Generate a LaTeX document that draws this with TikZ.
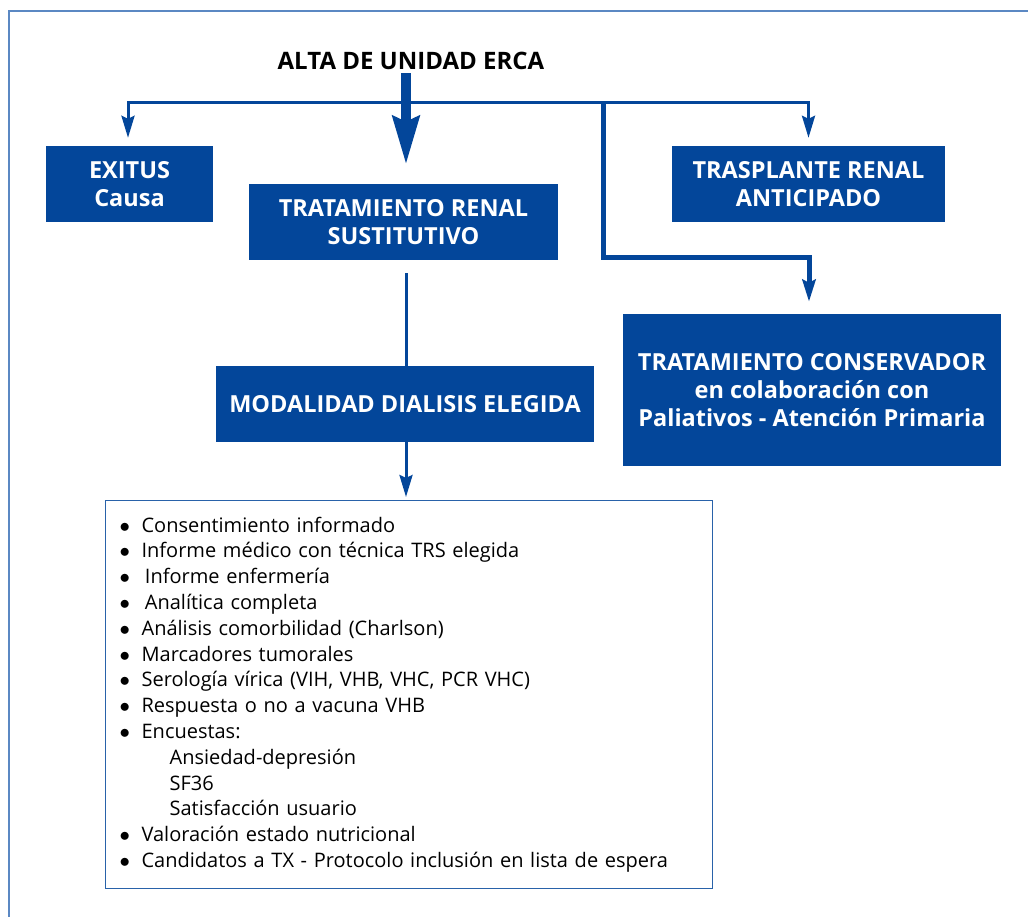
\documentclass[tikz,border=0pt]{standalone}
\usepackage{fontspec}
\setmainfont{Open Sans}
\usetikzlibrary{arrows.meta,positioning}
\definecolor{ercablue}{HTML}{03469A}
\definecolor{frameblue}{HTML}{5B88C3}
\newcommand{\itm}[1]{\makebox[22pt][l]{$\bullet$}#1\\}
\newcommand{\subitm}[1]{\hspace*{50pt}#1\\}
\tikzset{
  bluebox/.style={ % dark box with white caption
    rectangle, fill=ercablue, text=white, align=center,
    inner sep=0pt, font=\fontsize{23.5}{28}\selectfont\bfseries
  },
  titletext/.style={
    font=\fontsize{24}{28}\selectfont\bfseries, text=black
  },
  listbox/.style={ % box with the checklist
    rectangle, draw=ercablue!85, line width=1.2pt, align=left,
    inner xsep=14pt, inner ysep=0pt, anchor=north west,
    font=\fontsize{20}{25.8}\selectfont
  },
  link/.style={
    draw=ercablue, line width=3pt,
    -{Stealth[length=22pt,width=13pt,inset=3pt]}
  },
  bigarrow/.style={
    draw=ercablue, line width=10pt,
    -{Stealth[length=48pt,width=26pt,inset=5pt]}
  },
  frame/.style={draw=frameblue, line width=2pt}
}
\begin{document}
\begin{tikzpicture}[x=1pt,y=-1pt]
  \useasboundingbox (0,0) rectangle (1028,917);
  \draw[frame] (9,917) |- (1028,11);

  \node[titletext] (alta) at (411,61) {ALTA DE UNIDAD ERCA};
  \node[bluebox, minimum width=167pt, minimum height=76pt] (exitus) at (129.5,184) {EXITUS\\Causa};
  \node[bluebox, minimum width=309pt, minimum height=76pt] (trs) at (403.5,222) {TRATAMIENTO RENAL\\SUSTITUTIVO};
  \node[bluebox, minimum width=273pt, minimum height=76pt] (trasplante) at (808.5,184) {TRASPLANTE RENAL\\ANTICIPADO};
  \node[bluebox, minimum width=378pt, minimum height=152pt] (conservador) at (812,390) {TRATAMIENTO CONSERVADOR\\en colaboración con\\Paliativos - Atención Primaria};
  \node[bluebox, minimum width=378pt, minimum height=76pt] (modalidad) at (405,404) {MODALIDAD DIALISIS ELEGIDA};
  \node[listbox, minimum width=607pt, minimum height=388pt, text width=579pt] (checklist) at (105,500) {%
    \itm{Consentimiento informado}
    \itm{Informe médico con técnica TRS elegida}
    \itm{\,Informe enfermería}
    \itm{\,Analítica completa}
    \itm{Análisis comorbilidad (Charlson)}
    \itm{Marcadores tumorales}
    \itm{Serología vírica (VIH, VHB, VHC, PCR VHC)}
    \itm{Respuesta o no a vacuna VHB}
    \itm{Encuestas:}
    \subitm{Ansiedad-depresión}
    \subitm{SF36}
    \subitm{Satisfacción usuario}
    \itm{Valoración estado nutricional}
    \makebox[22pt][l]{$\bullet$}Candidatos a TX - Protocolo inclusión en lista de espera};

  \coordinate (fork) at (406,103);
  \coordinate (branch) at (603,103);

  % branches under the title
  \draw[link, shorten >=8pt] (fork) -| ([xshift=-1.5pt]exitus.north);
  \draw[link, shorten >=8pt] (fork) -| (trasplante.north);
  \draw[link, line width=5pt, line join=miter, shorten >=12pt] (branch) -- ++(0,155) -| ([xshift=-3pt]conservador.north);
  \draw[bigarrow, shorten >=19pt] (alta.south -| fork) -- (fork |- trs.north);

  % dialysis path
  \draw[draw=ercablue, line width=3pt, shorten <=13pt] (trs.south -| fork) -- (fork |- modalidad.north);
  \draw[link, shorten >=3pt] (modalidad.south -| fork) -- (fork |- checklist.north);
\end{tikzpicture}
\end{document}
